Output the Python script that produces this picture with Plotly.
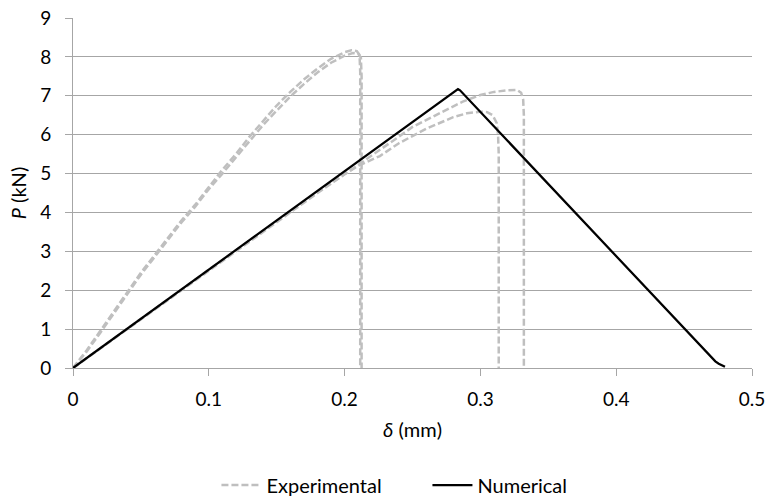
import plotly.graph_objects as go

# Numerical
num_x = [0, 0.2825, 0.2835, 0.2850, 0.4507, 0.462, 0.467, 0.4705, 0.473, 0.4755, 0.478, 0.4801]
num_y = [0, 7.14, 7.17, 7.14, 1.0, 0.58, 0.39, 0.25, 0.17, 0.11, 0.06, 0.03]

# Experimental (steep specimens)
expA_x = [0, 0.01, 0.02, 0.03, 0.04, 0.05, 0.06, 0.07, 0.08, 0.09, 0.10, 0.11, 0.12, 0.13, 0.14, 0.15,
          0.16, 0.17, 0.18, 0.19, 0.20, 0.205, 0.209, 0.211, 0.2115, 0.2115]
expA_y = [0, 0.45, 0.95, 1.45, 1.95, 2.45, 2.9, 3.35, 3.8, 4.2, 4.65, 5.1, 5.5, 5.95, 6.35, 6.75,
          7.1, 7.42, 7.7, 7.95, 8.12, 8.17, 8.15, 8.05, 7.6, 0]
expB_x = [0, 0.01, 0.02, 0.03, 0.04, 0.05, 0.06, 0.07, 0.08, 0.09, 0.10, 0.11, 0.12, 0.13, 0.14, 0.15,
          0.16, 0.17, 0.18, 0.19, 0.20, 0.206, 0.210, 0.212, 0.2125, 0.2125]
expB_y = [0, 0.42, 0.9, 1.4, 1.9, 2.4, 2.85, 3.3, 3.75, 4.15, 4.6, 5.0, 5.42, 5.85, 6.25, 6.62,
          6.98, 7.3, 7.6, 7.85, 8.03, 8.1, 8.08, 7.98, 7.5, 0]

# Experimental (shallow specimens)
expC_x = [0, 0.02, 0.05, 0.08, 0.10, 0.12, 0.14, 0.16, 0.18, 0.20, 0.21, 0.226, 0.24, 0.26, 0.28,
          0.29, 0.30, 0.305, 0.309, 0.312, 0.313, 0.3135, 0.3135]
expC_y = [0, 0.5, 1.26, 2.02, 2.53, 3.03, 3.53, 4.03, 4.52, 4.98, 5.2, 5.45, 5.78, 6.15, 6.45,
          6.55, 6.59, 6.58, 6.5, 6.3, 6.0, 5.5, 0]
expD_x = [0, 0.02, 0.05, 0.08, 0.10, 0.12, 0.14, 0.16, 0.18, 0.20, 0.21, 0.226, 0.24, 0.25, 0.26,
          0.275, 0.287, 0.30, 0.31, 0.32, 0.327, 0.33, 0.3315, 0.332, 0.332]
expD_y = [0, 0.5, 1.25, 2.0, 2.52, 3.02, 3.52, 4.02, 4.5, 4.98, 5.22, 5.6, 5.95, 6.2, 6.38,
          6.63, 6.85, 7.02, 7.1, 7.14, 7.15, 7.08, 6.9, 6.5, 0]

x_ticks = [0, 0.1, 0.2, 0.3, 0.4, 0.5]
x_tick_labels = ["0", "0.1", "0.2", "0.3", "0.4", "0.5"]
y_ticks = list(range(0, 10))

GRAY = "#bfbfbf"
AX = "#a6a6a6"
FONT = "Lato"
FS_TICK = 19
FS_TITLE = 20
FS_LEG = 20

fig = go.Figure()
exp_sets = [(expA_x, expA_y), (expB_x, expB_y), (expC_x, expC_y), (expD_x, expD_y)]
for i, (xs, ys) in enumerate(exp_sets):
    fig.add_trace(go.Scatter(
        x=xs, y=ys, mode="lines", name="Experimental",
        line=dict(color=GRAY, width=2.5, dash="7px,3px"),
        legendgroup="exp", showlegend=(i == 0),
    ))
fig.add_trace(go.Scatter(
    x=num_x, y=num_y, mode="lines", name="Numerical",
    line=dict(color="black", width=2.25),
))

fig.update_layout(
    width=767, height=497,
    margin=dict(l=73, r=15, t=18, b=129),
    paper_bgcolor="white", plot_bgcolor="white",
    font=dict(family=FONT, size=FS_TICK, color="black"),
    showlegend=True,
    legend=dict(orientation="h", x=0.522, xanchor="center",
                yref="container", y=0.024, yanchor="middle",
                font=dict(family=FONT, size=FS_LEG), itemwidth=40, tracegroupgap=0,
                entrywidth=156),
    xaxis=dict(
        range=[0, 0.5], tickvals=x_ticks, ticktext=x_tick_labels, automargin=False,
        showgrid=False, zeroline=False, showline=True, linecolor=AX, linewidth=1,
        ticks="outside", ticklen=7, tickcolor=AX, ticklabelstandoff=7,
        title=dict(text="<i>δ</i> (mm)", font=dict(family=FONT, size=FS_TITLE), standoff=14),
    ),
    yaxis=dict(
        range=[0, 9], tickvals=y_ticks, automargin=False,
        showgrid=True, gridcolor=AX, gridwidth=1, zeroline=False,
        showline=True, linecolor=AX, linewidth=1,
        ticks="outside", ticklen=7, tickcolor=AX, ticklabelstandoff=10,
        title=dict(text="<i>P</i> (kN)", font=dict(family=FONT, size=FS_TITLE), standoff=8),
    ),
)

fig.write_html(
    "out.html",
    config={"displayModeBar": False},
    post_script=(
        "document.body.style.margin='0';"
        "document.body.style.overflow='hidden';"
        "document.documentElement.style.overflow='hidden';"
    ),
)
